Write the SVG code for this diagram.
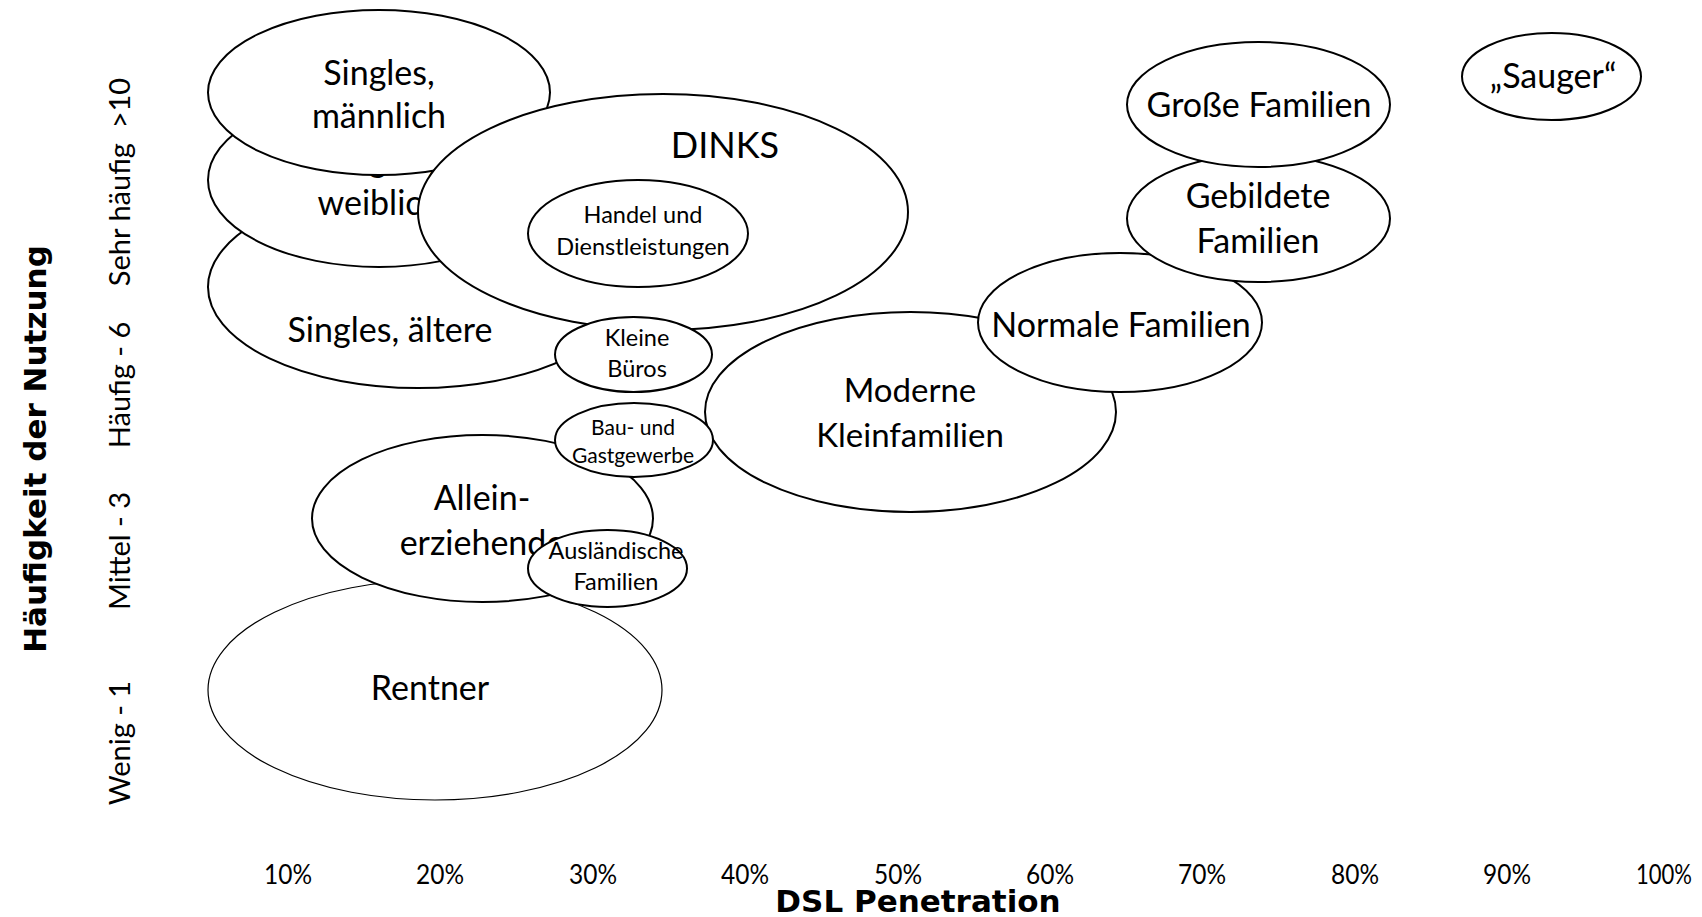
<svg xmlns="http://www.w3.org/2000/svg" width="1702" height="917" viewBox="0 0 1702 917">
  <style>
    .bubble { fill: #ffffff; stroke: #000000; stroke-width: 2; }
    .thin { stroke-width: 1.2; }
    .lbl { font-family: Lato, "Open Sans", "Liberation Sans", sans-serif; fill: #000000; text-anchor: middle; }
    .big { font-size: 34px; }
    .small { font-size: 23.5px; }
    .axis { font-family: Lato, "Liberation Sans", sans-serif; font-size: 29px; fill: #000000; white-space: pre; }
    .pct { font-family: Lato, "Liberation Sans", sans-serif; font-size: 27px; fill: #000000; }
    .title { font-family: "DejaVu Sans", "Liberation Sans", sans-serif; font-weight: bold; fill: #000000; text-anchor: middle; }
  </style>

  <rect width="1702" height="917" fill="#ffffff"/>

  <!-- no connectors in this chart; bubbles overlap by position only -->
  <g id="connectors"/>

  <!-- bubbles, drawn back to front -->
  <g id="singles-aeltere">
    <ellipse class="bubble" cx="418" cy="287" rx="210" ry="101"/>
    <text class="lbl big" x="390" y="342">Singles, ältere</text>
  </g>

  <g id="singles-weiblich">
    <ellipse class="bubble" cx="379" cy="180" rx="171" ry="87"/>
    <text class="lbl big" x="379" y="172">Singles,</text>
    <text class="lbl big" x="379" y="215">weiblich</text>
  </g>

  <g id="singles-maennlich">
    <ellipse class="bubble" cx="379" cy="92.5" rx="171" ry="82.5"/>
    <text class="lbl big" x="379" y="85">Singles,</text>
    <text class="lbl big" x="379" y="128">männlich</text>
  </g>

  <g id="dinks">
    <ellipse class="bubble" cx="663" cy="212" rx="245" ry="118"/>
    <text class="lbl" style="font-size:36px" x="725" y="158">DINKS</text>
  </g>

  <g id="handel">
    <ellipse class="bubble" cx="638" cy="233.5" rx="110" ry="53.5"/>
    <text class="lbl small" x="643" y="223">Handel und</text>
    <text class="lbl small" x="643" y="255">Dienstleistungen</text>
  </g>

  <g id="moderne-kleinfamilien">
    <ellipse class="bubble" cx="910.5" cy="412" rx="205.5" ry="100"/>
    <text class="lbl" style="font-size:33px" x="910" y="402">Moderne</text>
    <text class="lbl" style="font-size:33px" x="910" y="447">Kleinfamilien</text>
  </g>

  <g id="normale-familien">
    <ellipse class="bubble" cx="1120" cy="322.5" rx="142" ry="69.5"/>
    <text class="lbl big" x="1121" y="337">Normale Familien</text>
  </g>

  <g id="gebildete-familien">
    <ellipse class="bubble" cx="1258.5" cy="218.5" rx="131.5" ry="63.5"/>
    <text class="lbl big" x="1258" y="208">Gebildete</text>
    <text class="lbl big" x="1258" y="253">Familien</text>
  </g>

  <g id="grosse-familien">
    <ellipse class="bubble" cx="1258.5" cy="104.5" rx="131.5" ry="62.5"/>
    <text class="lbl big" x="1259" y="117">Große Familien</text>
  </g>

  <g id="sauger">
    <ellipse class="bubble" cx="1551.5" cy="76.5" rx="89.5" ry="43.5"/>
    <text class="lbl big" x="1553" y="88">„Sauger“</text>
  </g>

  <g id="kleine-bueros">
    <ellipse class="bubble" cx="633.5" cy="354.5" rx="78.5" ry="37.5"/>
    <text class="lbl small" x="637" y="346">Kleine</text>
    <text class="lbl small" x="637" y="377">Büros</text>
  </g>

  <g id="rentner">
    <ellipse class="bubble thin" cx="435" cy="690" rx="227" ry="110"/>
    <text class="lbl big" x="430" y="700">Rentner</text>
  </g>

  <g id="alleinerziehende">
    <ellipse class="bubble" cx="482.5" cy="518.5" rx="170.5" ry="83.5"/>
    <text class="lbl big" x="482" y="510">Allein-</text>
    <text class="lbl big" x="482" y="555">erziehende</text>
  </g>

  <g id="bau-gastgewerbe">
    <ellipse class="bubble" cx="634" cy="440" rx="79" ry="37"/>
    <text class="lbl" style="font-size:21px" x="633" y="435">Bau- und</text>
    <text class="lbl" style="font-size:21px" x="633" y="463">Gastgewerbe</text>
  </g>

  <g id="auslaendische-familien">
    <ellipse class="bubble" cx="607.5" cy="568.5" rx="79.5" ry="38.5"/>
    <text class="lbl small" x="616" y="559">Ausländische</text>
    <text class="lbl small" x="616" y="590">Familien</text>
  </g>

  <!-- vertical axis -->
  <g id="y-axis">
    <text class="title" style="font-size:31px" transform="translate(46,449) rotate(-90)">Häufigkeit der Nutzung</text>
    <text class="axis" text-anchor="middle" transform="translate(130,743) rotate(-90)">Wenig - 1</text>
    <text class="axis" text-anchor="middle" transform="translate(130,551) rotate(-90)">Mittel - 3</text>
    <text class="axis" text-anchor="middle" transform="translate(130,385) rotate(-90)">Häufig - 6</text>
    <text class="axis" text-anchor="middle" transform="translate(130,182) rotate(-90)">Sehr häufig  &gt;10</text>
  </g>

  <!-- horizontal axis -->
  <g id="x-axis">
    <text class="pct" x="264" y="884" textLength="48" lengthAdjust="spacingAndGlyphs">10%</text>
    <text class="pct" x="416" y="884" textLength="48" lengthAdjust="spacingAndGlyphs">20%</text>
    <text class="pct" x="569" y="884" textLength="48" lengthAdjust="spacingAndGlyphs">30%</text>
    <text class="pct" x="721" y="884" textLength="48" lengthAdjust="spacingAndGlyphs">40%</text>
    <text class="pct" x="874" y="884" textLength="48" lengthAdjust="spacingAndGlyphs">50%</text>
    <text class="pct" x="1026" y="884" textLength="48" lengthAdjust="spacingAndGlyphs">60%</text>
    <text class="pct" x="1178" y="884" textLength="48" lengthAdjust="spacingAndGlyphs">70%</text>
    <text class="pct" x="1331" y="884" textLength="48" lengthAdjust="spacingAndGlyphs">80%</text>
    <text class="pct" x="1483" y="884" textLength="48" lengthAdjust="spacingAndGlyphs">90%</text>
    <text class="pct" x="1636" y="884" textLength="56" lengthAdjust="spacingAndGlyphs">100%</text>
    <text class="title" style="font-size:31px" x="918" y="912">DSL Penetration</text>
  </g>
</svg>
